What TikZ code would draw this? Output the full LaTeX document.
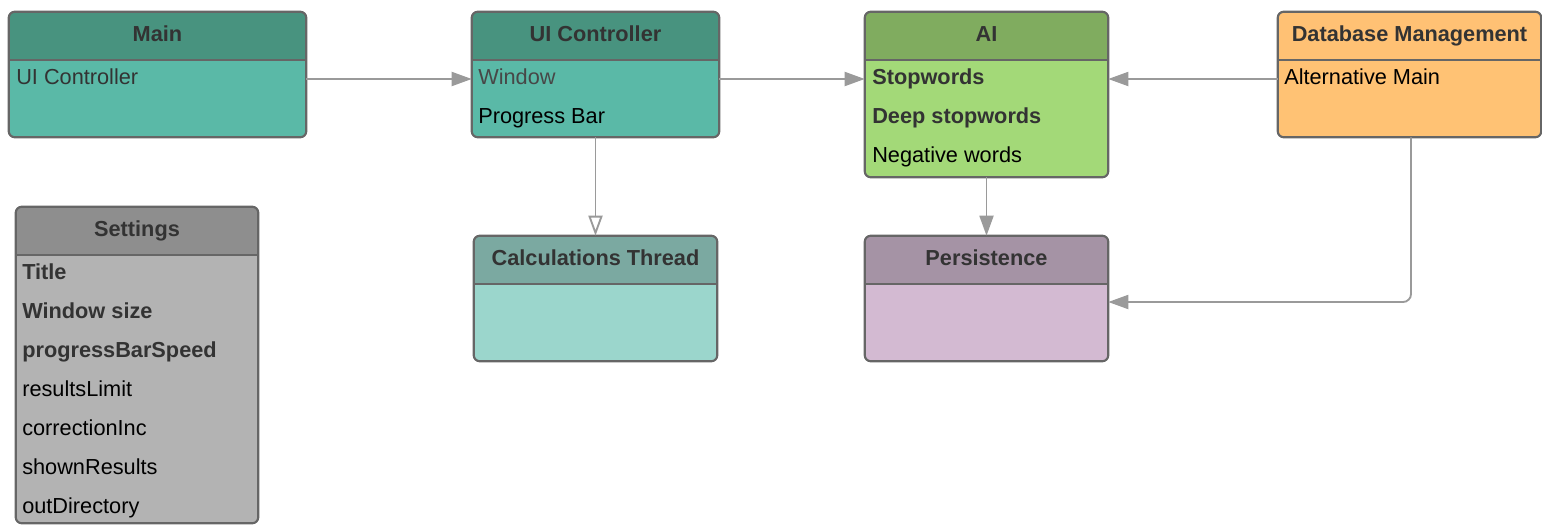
\documentclass[tikz,border=0pt]{standalone}
\usepackage{fontspec}
\setmainfont{Liberation Sans}
\usetikzlibrary{fit,arrows.meta}
\definecolor{bordc}{HTML}{666666}
\definecolor{arrc}{HTML}{9A9A9A}
\definecolor{txtdark}{HTML}{333333}
\definecolor{tealH}{HTML}{48937F}
\definecolor{tealB}{HTML}{5AB9A7}
\definecolor{greenH}{HTML}{80AC5F}
\definecolor{greenB}{HTML}{A3D978}
\definecolor{orangeH}{HTML}{FFC174}
\definecolor{orangeB}{HTML}{FFC274}
\definecolor{greyH}{HTML}{8E8E8E}
\definecolor{greyB}{HTML}{B3B3B3}
\definecolor{calcH}{HTML}{7BA9A1}
\definecolor{calcB}{HTML}{9BD6CC}
\definecolor{persH}{HTML}{A593A5}
\definecolor{persB}{HTML}{D3BAD2}
\tikzset{
  ttl/.style={font=\fontsize{16.3}{18}\selectfont\bfseries, text=txtdark, inner sep=0pt, anchor=base},
  itm/.style={font=\fontsize{16.3}{18}\selectfont, inner sep=0pt, anchor=base west, text=black},
  itmb/.style={itm, font=\fontsize{16.3}{18}\selectfont\bfseries, text=txtdark},
  bord/.style={draw=bordc, line width=1.6pt, rounded corners=4.5pt},
  divl/.style={draw=bordc, line width=1.6pt},
  conn/.style={draw=arrc, line width=1.4pt, -{Triangle[length=15pt,width=10.5pt]}},
  connopen/.style={draw=arrc, line width=1.4pt, -{Triangle[open,length=15pt,width=10.5pt,fill=white]}},
}
% name, x1, y1, x2, y2, ydiv, title, headcolour, bodycolour
\newcommand\umlbox[9]{%
  \node[fit={(#2,#3) (#4,#5)}, inner sep=0pt, fill=#9, rounded corners=4.5pt] (#1) {};
  \begin{scope}
    \clip[rounded corners=4.5pt] (#2,#3) rectangle (#4,#5);
    \fill[#8] (#2,#3) rectangle (#4,#6);
  \end{scope}
  \node[ttl] (#1-title) at ({(#2+#4)/2},{#3+29}) {#7};
  \draw[bord] (#1.north west) rectangle (#1.south east);
  \draw[divl] (#2,#6) -- (#4,#6);
}
\begin{document}
\begin{tikzpicture}[x=0.75pt,y=-0.75pt]
\useasboundingbox (0,0) rectangle (1542,525);

\umlbox{main}{9}{12}{306}{137}{60}{Main}{tealH}{tealB}
\node[itm, text=txtdark] (main-1) at (16,84) {UI Controller};

\umlbox{uic}{472}{12}{719}{137}{60}{UI Controller}{tealH}{tealB}
\node[itm, text=black!72] (uic-1) at (478,84) {Window};
\node[itm] (uic-2) at (478,123) {Progress Bar};

\umlbox{ai}{865}{12}{1108}{177}{60}{AI}{greenH}{greenB}
\node[itmb] (ai-1) at (872,84) {Stopwords};
\node[itmb] (ai-2) at (872,123) {Deep stopwords};
\node[itm] (ai-3) at (872,162) {Negative words};

\umlbox{db}{1278}{12}{1541}{137}{60}{Database Management}{orangeH}{orangeB}
\node[itm] (db-1) at (1284,84) {Alternative Main};

\umlbox{set}{16}{207}{258}{523}{255}{Settings}{greyH}{greyB}
\node[itmb] (set-1) at (22,279) {Title};
\node[itmb] (set-2) at (22,318) {Window size};
\node[itmb] (set-3) at (22,357) {progressBarSpeed};
\node[itm] (set-4) at (22,396) {resultsLimit};
\node[itm] (set-5) at (22,435) {correctionInc};
\node[itm] (set-6) at (22,474) {shownResults};
\node[itm] (set-7) at (22,513) {outDirectory};

\umlbox{calc}{474}{236}{717}{361}{284}{Calculations Thread}{calcH}{calcB}
\umlbox{pers}{865}{236}{1108}{361}{284}{Persistence}{persH}{persB}

% connectors
\draw[conn] (main.east |- 0,79) -- (uic.west |- 0,79);
\draw[conn] (uic.east |- 0,79) -- (ai.west |- 0,79);
\draw[conn] (db.west |- 0,79) -- (ai.east |- 0,79);
\draw[connopen] (uic.south) -- (calc.north);
\draw[conn] (ai.south) -- (pers.north);
\draw[conn, rounded corners=6pt] (db.south -| 1411,0) -- (1411,302) -- (pers.east |- 0,302);
\end{tikzpicture}
\end{document}
